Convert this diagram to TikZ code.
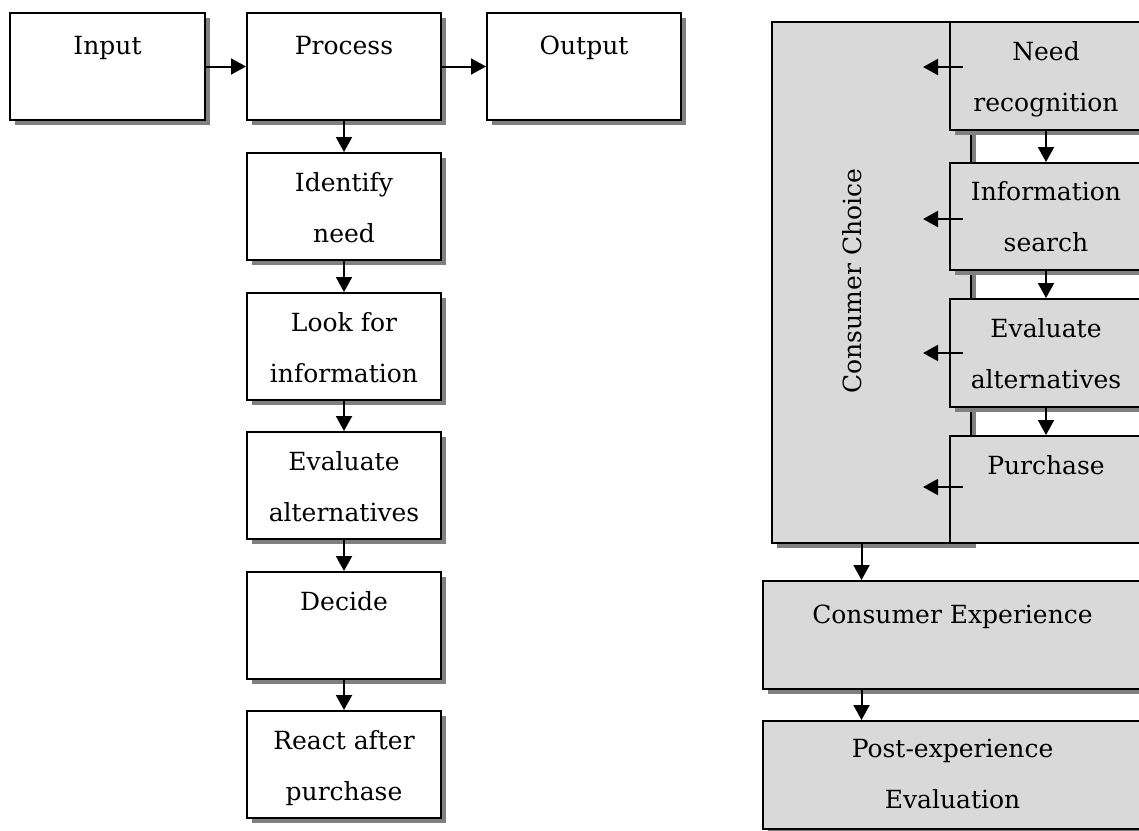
\documentclass[tikz,border=0pt]{standalone}
\usepackage{fontspec}
\setmainfont{DejaVu Serif}
\usetikzlibrary{arrows.meta,shadows,calc}
\definecolor{boxgray}{HTML}{D9D9D9}
\definecolor{shadowgray}{HTML}{808080}
\newcommand\stagetext[1]{\parbox[t]{380pt}{\centering #1}}
\tikzset{
  stage/.style={draw=black, line width=2pt, fill=white, rectangle, inner sep=0pt,
    anchor=north west,
    drop shadow={shadow xshift=5pt, shadow yshift=-5pt, fill=shadowgray, opacity=1}},
  greystage/.style={stage, fill=boxgray},
  flatstage/.style={draw=black, line width=2pt, fill=boxgray, rectangle, inner sep=0pt,
    anchor=north west},
  label text/.style={font=\fontsize{25}{51}\selectfont, inner sep=0pt, anchor=base},
  arr/.style={line width=2pt, -{Triangle[length=15pt,width=16pt]}},
}
\begin{document}
\begin{tikzpicture}[x=1pt, y=-1pt]
\path[use as bounding box] (0,0) rectangle (1139,830);
\clip (0,0) rectangle (1139,830);

% ---- left: input / process / output and the decision steps
\node[stage, minimum width=195pt, minimum height=107pt] (input)   at (9,12)   {};
\node[stage, minimum width=194pt, minimum height=107pt] (process) at (246,12) {};
\node[stage, minimum width=194pt, minimum height=107pt] (output)  at (486,12) {};
\node[stage, minimum width=194pt, minimum height=107pt] (identify) at (246,152) {};
\node[stage, minimum width=194pt, minimum height=107pt] (look)     at (246,292) {};
\node[stage, minimum width=194pt, minimum height=107pt] (evalL)    at (246,431) {};
\node[stage, minimum width=194pt, minimum height=107pt] (decide)   at (246,571) {};
\node[stage, minimum width=194pt, minimum height=107pt] (react)    at (246,710) {};

\node[label text] (tInput)   at ($(input.north)+(0,42)$)    {\stagetext{Input}};
\node[label text] (tProcess) at ($(process.north)+(0,42)$)  {\stagetext{Process}};
\node[label text] (tOutput)  at ($(output.north)+(0,42)$)   {\stagetext{Output}};
\node[label text] (tIdent)   at ($(identify.north)+(0,39)$) {\stagetext{Identify\\need}};
\node[label text] (tLook)    at ($(look.north)+(0,39)$)     {\stagetext{Look for\\information}};
\node[label text] (tEvalL)   at ($(evalL.north)+(0,39)$)    {\stagetext{Evaluate\\alternatives}};
\node[label text] (tDecide)  at ($(decide.north)+(0,39)$)   {\stagetext{Decide}};
\node[label text] (tReact)   at ($(react.north)+(0,39)$)    {\stagetext{React after\\purchase}};

\draw[arr] (input.east) -- (process.west);
\draw[arr] (process.east) -- (output.west);
\draw[arr] (process.south) -- (identify.north);
\draw[arr] (identify.south) -- (look.north);
\draw[arr] (look.south) -- (evalL.north);
\draw[arr] (evalL.south) -- (decide.north);
\draw[arr] (decide.south) -- (react.north);

% ---- right: consumer choice with its four stages
\node[greystage, minimum width=199pt, minimum height=521pt] (choice) at (771,21) {};
\node[font=\fontsize{25}{51}\selectfont, rotate=90, inner sep=0pt] (tChoice) at (852,281) {Consumer Choice};

\node[greystage, minimum width=192pt, minimum height=108pt] (need)  at (949,21)  {};
\node[greystage, minimum width=192pt, minimum height=107pt] (info)  at (949,162) {};
\node[greystage, minimum width=192pt, minimum height=108pt] (evalR) at (949,298) {};
\node[flatstage, minimum width=192pt, minimum height=107pt] (purch) at (949,435) {};

\node[label text] (tNeed)  at ($(need.north)+(0,39)$)  {\stagetext{Need\\recognition}};
\node[label text] (tInfo)  at ($(info.north)+(0,38)$)  {\stagetext{Information\\search}};
\node[label text] (tEvalR) at ($(evalR.north)+(0,39)$) {\stagetext{Evaluate\\alternatives}};
\node[label text] (tPurch) at ($(purch.north)+(0,39)$) {\stagetext{Purchase}};

\draw[arr] (need.south) -- (info.north);
\draw[arr] (info.south) -- (evalR.north);
\draw[arr] (evalR.south) -- (purch.north);

\coordinate (needTail)  at ($(need.north west)+(14,46)$);
\coordinate (needHead)  at ($(need.north west)+(-26,46)$);
\coordinate (infoTail)  at ($(info.north west)+(14,57)$);
\coordinate (infoHead)  at ($(info.north west)+(-26,57)$);
\coordinate (evalTail)  at ($(evalR.north west)+(14,55)$);
\coordinate (evalHead)  at ($(evalR.north west)+(-26,55)$);
\coordinate (purchTail) at ($(purch.north west)+(14,52)$);
\coordinate (purchHead) at ($(purch.north west)+(-26,52)$);
\draw[arr] (needTail) -- (needHead);
\draw[arr] (infoTail) -- (infoHead);
\draw[arr] (evalTail) -- (evalHead);
\draw[arr] (purchTail) -- (purchHead);

% ---- experience and evaluation
\node[greystage, minimum width=379pt, minimum height=108pt] (exper) at (762,580) {};
\node[greystage, minimum width=379pt, minimum height=108pt] (post)  at (762,720) {};
\node[label text] (tExper) at ($(exper.north)+(0,43)$) {\stagetext{Consumer Experience}};
\node[label text] (tPost)  at ($(post.north)+(0,37)$)  {\stagetext{Post-experience\\Evaluation}};

\draw[arr] ([xshift=-10pt]choice.south) -- ([xshift=-10pt]choice.south |- exper.north);
\draw[arr] ([xshift=-10pt]choice.south |- exper.south) -- ([xshift=-10pt]choice.south |- post.north);
\end{tikzpicture}
\end{document}
